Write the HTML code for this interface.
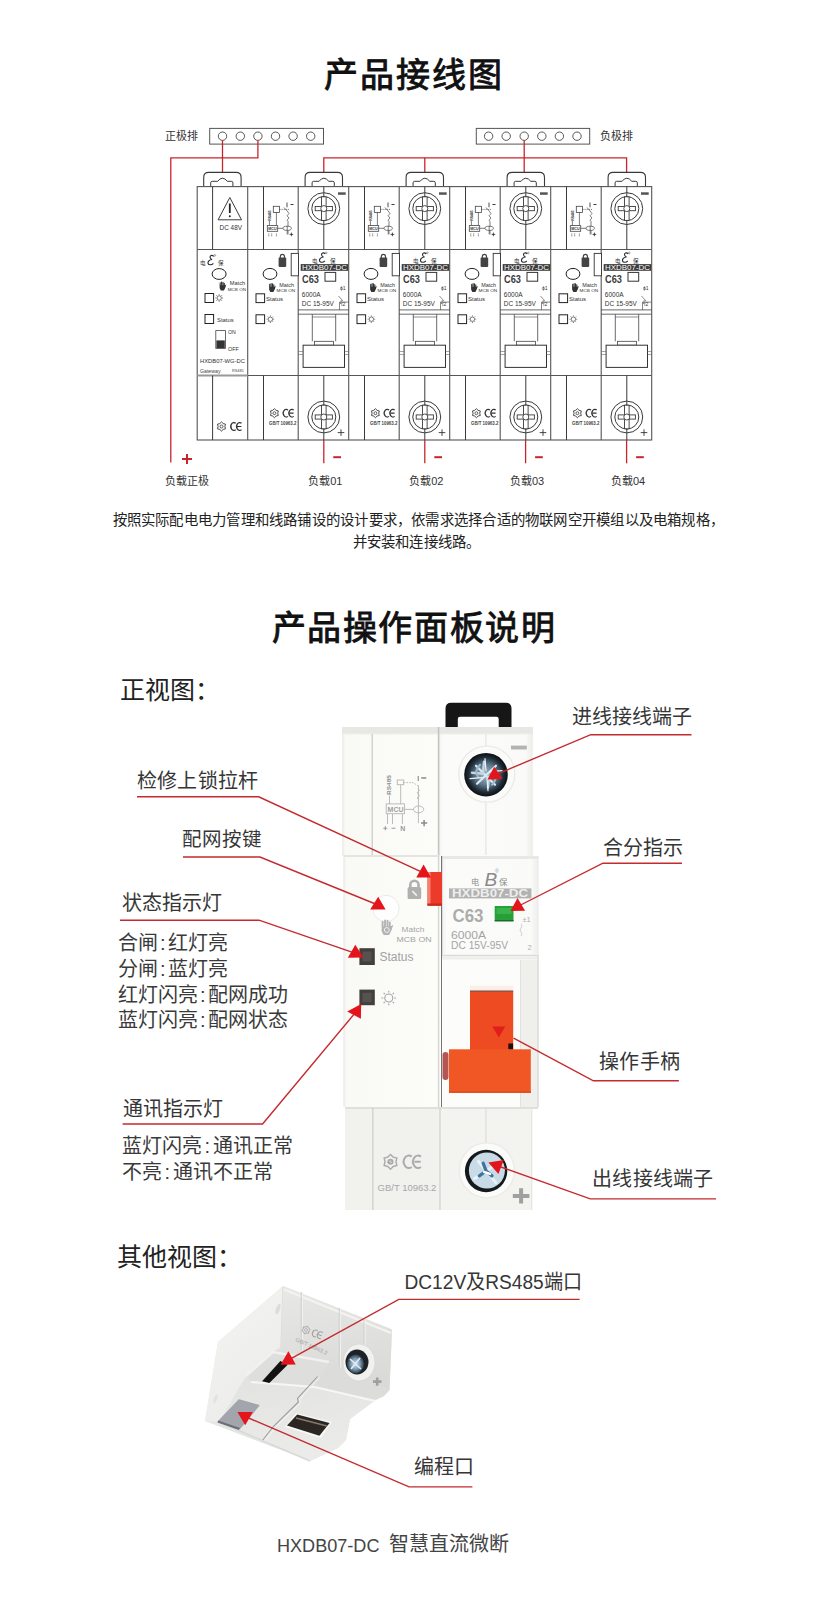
<!DOCTYPE html>
<html lang="zh-CN"><head><meta charset="utf-8"><title>HXDB07-DC</title>
<style>
html,body{margin:0;padding:0;background:#fff;}
body{width:821px;height:1600px;overflow:hidden;position:relative;font-family:"Liberation Sans", sans-serif;}
svg{position:absolute;left:0;top:0;display:block;}
svg text{font-family:"Liberation Sans", sans-serif;}
</style></head>
<body>
<svg width="821" height="1600" viewBox="0 0 821 1600">
<g id="diagram">
<rect x="209.7" y="128.4" width="113.8" height="15.7" fill="#fff" stroke="#555" stroke-width="1"/>
<rect x="476.3" y="128.4" width="113.4" height="15.7" fill="#fff" stroke="#555" stroke-width="1"/>
<circle cx="222.5" cy="136.2" r="4.2" fill="#fff" stroke="#444" stroke-width="0.9"/>
<circle cx="240.3" cy="136.2" r="4.2" fill="#fff" stroke="#444" stroke-width="0.9"/>
<circle cx="257.9" cy="136.2" r="4.2" fill="#fff" stroke="#444" stroke-width="0.9"/>
<circle cx="275.5" cy="136.2" r="4.2" fill="#fff" stroke="#444" stroke-width="0.9"/>
<circle cx="293.1" cy="136.2" r="4.2" fill="#fff" stroke="#444" stroke-width="0.9"/>
<circle cx="310.7" cy="136.2" r="4.2" fill="#fff" stroke="#444" stroke-width="0.9"/>
<circle cx="488.6" cy="136.2" r="4.2" fill="#fff" stroke="#444" stroke-width="0.9"/>
<circle cx="506.2" cy="136.2" r="4.2" fill="#fff" stroke="#444" stroke-width="0.9"/>
<circle cx="524.2" cy="136.2" r="4.2" fill="#fff" stroke="#444" stroke-width="0.9"/>
<circle cx="541.8" cy="136.2" r="4.2" fill="#fff" stroke="#444" stroke-width="0.9"/>
<circle cx="559.4" cy="136.2" r="4.2" fill="#fff" stroke="#444" stroke-width="0.9"/>
<circle cx="577.0" cy="136.2" r="4.2" fill="#fff" stroke="#444" stroke-width="0.9"/>
<text x="165" y="140.2" font-size="11" fill="#333" text-anchor="start" font-weight="normal" >正极排</text>
<text x="600" y="140.4" font-size="11" fill="#333" text-anchor="start" font-weight="normal" >负极排</text>
<g stroke="#c9242b" stroke-width="1.3" fill="none">
<path d="M222.5,140.4 V172.4"/>
<path d="M257.9,140.4 V157.8 H170.8 V462.6"/>
<path d="M323.8,172.4 V157.8 H626.6 V172.4"/>
<path d="M424.8,157.8 V172.4"/>
<path d="M524.2,140.4 V172.4"/>
<path d="M323.8,440 V463.3"/>
<path d="M424.8,440 V463.3"/>
<path d="M525.6,440 V463.3"/>
<path d="M626.6,440 V463.3"/>
</g>
<path d="M182,458.9 H192 M187,453.9 V463.9" stroke="#c9242b" stroke-width="2"/>
<path d="M333.3,457.2 H341.0" stroke="#c9242b" stroke-width="2"/>
<path d="M434.3,457.2 H442.0" stroke="#c9242b" stroke-width="2"/>
<path d="M535.1,457.2 H542.8000000000001" stroke="#c9242b" stroke-width="2"/>
<path d="M636.1,457.2 H643.8000000000001" stroke="#c9242b" stroke-width="2"/>
<text x="165" y="485.3" font-size="11" fill="#333" text-anchor="start" font-weight="normal" >负载正极</text>
<text x="308.2" y="485.3" font-size="11" fill="#333" text-anchor="start" font-weight="normal" >负载01</text>
<text x="409.2" y="485.3" font-size="11" fill="#333" text-anchor="start" font-weight="normal" >负载02</text>
<text x="510.0" y="485.3" font-size="11" fill="#333" text-anchor="start" font-weight="normal" >负载03</text>
<text x="611.0" y="485.3" font-size="11" fill="#333" text-anchor="start" font-weight="normal" >负载04</text>
<path d="M203.7,186.6 V177.4 Q203.7,172.4 208.7,172.4 H236.1 Q241.1,172.4 241.1,177.4 V186.6" fill="#fff" stroke="#3a3a3a" stroke-width="1.1"/>
<path d="M210.7,186.6 V182.8 Q210.7,181.3 212.2,181.3 H217.7 Q219.9,178.2 222.4,178.2 Q224.9,178.2 227.4,181.3 H231.4 Q232.9,181.3 232.9,182.8 V186.6" fill="none" stroke="#3a3a3a" stroke-width="1"/>
<path d="M305.1,186.6 V177.4 Q305.1,172.4 310.1,172.4 H337.5 Q342.5,172.4 342.5,177.4 V186.6" fill="#fff" stroke="#3a3a3a" stroke-width="1.1"/>
<path d="M312.1,186.6 V182.8 Q312.1,181.3 313.6,181.3 H319.1 Q321.3,178.2 323.8,178.2 Q326.3,178.2 328.8,181.3 H332.8 Q334.3,181.3 334.3,182.8 V186.6" fill="none" stroke="#3a3a3a" stroke-width="1"/>
<path d="M406.1,186.6 V177.4 Q406.1,172.4 411.1,172.4 H438.5 Q443.5,172.4 443.5,177.4 V186.6" fill="#fff" stroke="#3a3a3a" stroke-width="1.1"/>
<path d="M413.1,186.6 V182.8 Q413.1,181.3 414.6,181.3 H420.1 Q422.3,178.2 424.8,178.2 Q427.3,178.2 429.8,181.3 H433.8 Q435.3,181.3 435.3,182.8 V186.6" fill="none" stroke="#3a3a3a" stroke-width="1"/>
<path d="M507.1,186.6 V177.4 Q507.1,172.4 512.1,172.4 H539.5 Q544.5,172.4 544.5,177.4 V186.6" fill="#fff" stroke="#3a3a3a" stroke-width="1.1"/>
<path d="M514.1,186.6 V182.8 Q514.1,181.3 515.6,181.3 H521.1 Q523.3,178.2 525.8,178.2 Q528.3,178.2 530.8,181.3 H534.8 Q536.3,181.3 536.3,182.8 V186.6" fill="none" stroke="#3a3a3a" stroke-width="1"/>
<path d="M608.1,186.6 V177.4 Q608.1,172.4 613.1,172.4 H640.5 Q645.5,172.4 645.5,177.4 V186.6" fill="#fff" stroke="#3a3a3a" stroke-width="1.1"/>
<path d="M615.1,186.6 V182.8 Q615.1,181.3 616.6,181.3 H622.1 Q624.3,178.2 626.8,178.2 Q629.3,178.2 631.8,181.3 H635.8 Q637.3,181.3 637.3,182.8 V186.6" fill="none" stroke="#3a3a3a" stroke-width="1"/>
<rect x="197.2" y="186.6" width="454.5" height="253.4" fill="#fff" stroke="#555" stroke-width="1.1"/>
<g stroke="#555" stroke-width="1.1" fill="none">
<path d="M247.7,186.6 V440.0"/>
<path d="M298.2,186.6 V440.0"/>
<path d="M348.7,186.6 V440.0"/>
<path d="M399.2,186.6 V440.0"/>
<path d="M449.7,186.6 V440.0"/>
<path d="M500.2,186.6 V440.0"/>
<path d="M550.7,186.6 V440.0"/>
<path d="M601.2,186.6 V440.0"/>
<path d="M197.2,249.5 H651.7"/>
<path d="M197.2,375.5 H651.7"/>
</g>
<path d="M197.2,375.5 H247.7" stroke="#999" stroke-width="2.2"/>
<g stroke="#3a3a3a" stroke-width="1" fill="none">
<path d="M212.6,186.6 V249.5 M212.6,375.5 V440.0"/>
<path d="M263.5,186.6 V249.5 M263.5,375.5 V440.0"/>
<path d="M364.5,186.6 V249.5 M364.5,375.5 V440.0"/>
<path d="M465.5,186.6 V249.5 M465.5,375.5 V440.0"/>
<path d="M566.5,186.6 V249.5 M566.5,375.5 V440.0"/>
<path d="M323.8,186.6 V249.5 M323.8,375.5 V440.0"/>
<path d="M424.8,186.6 V249.5 M424.8,375.5 V440.0"/>
<path d="M525.8,186.6 V249.5 M525.8,375.5 V440.0"/>
<path d="M626.8,186.6 V249.5 M626.8,375.5 V440.0"/>
</g>
<path d="M229.8,197.5 L241.5,219.8 H218.1 Z" fill="none" stroke="#3a3a3a" stroke-width="1" stroke-linejoin="round"/>
<path d="M229.8,203.5 V213" stroke="#222" stroke-width="1.8"/>
<circle cx="229.8" cy="216.2" r="1" fill="#222"/>
<text x="219.6" y="230" font-size="7" fill="#333" textLength="22.4" lengthAdjust="spacingAndGlyphs">DC 48V</text>
<text x="200" y="265.0" font-size="5.5" fill="#333" text-anchor="start" font-weight="normal" >电</text>
<g transform="translate(207.5,254.5) scale(1.0)"><path d="M6.2,1.8 C4.6,0.2 2.2,0.8 2.6,3 C2.8,4.3 4.2,4.9 4.6,5 C1.8,5 0,7.2 0.6,9 C1.2,10.8 4.4,10.6 5.8,8.8" fill="none" stroke="#2a2a2a" stroke-width="1.15"/><circle cx="7.3" cy="0.9" r="0.9" fill="none" stroke="#444" stroke-width="0.45"/></g>
<text x="218.0" y="265.0" font-size="5.5" fill="#333" text-anchor="start" font-weight="normal" >保</text>
<ellipse cx="219.1" cy="274" rx="7" ry="5.4" fill="#fff" stroke="#222" stroke-width="1"/>
<g transform="translate(219,281.5)"><path d="M1.2,4 V1.3 M2.6,4 V0.5 M4,4 V0.7 M5.3,4.3 V1.7" stroke="#333" stroke-width="1.1" stroke-linecap="round"/><path d="M0.7,3.8 H5.9 L7.3,3 L6.3,6.2 L4.9,8.9 H1.8 L0.6,6.6 Z" fill="#333"/></g>
<text x="229.8" y="285.3" font-size="5.2" fill="#333" textLength="15.3" lengthAdjust="spacingAndGlyphs">Match</text>
<text x="227.8" y="290.9" font-size="4.3" fill="#333" textLength="18.2" lengthAdjust="spacingAndGlyphs">MCB ON</text>
<rect x="205" y="293.5" width="8.6" height="9" fill="#fff" stroke="#222" stroke-width="1"/>
<circle cx="219.2" cy="298" r="2.2" fill="none" stroke="#444" stroke-width="0.7"/>
<path d="M222.00,298.00 L223.00,298.00 M221.18,299.98 L221.89,300.69 M219.20,300.80 L219.20,301.80 M217.22,299.98 L216.51,300.69 M216.40,298.00 L215.40,298.00 M217.22,296.02 L216.51,295.31 M219.20,295.20 L219.20,294.20 M221.18,296.02 L221.89,295.31 " stroke="#444" stroke-width="0.7"/>
<rect x="205" y="314.5" width="8.6" height="9" fill="#fff" stroke="#222" stroke-width="1"/>
<text x="217" y="321.9" font-size="6" fill="#333" textLength="16.7" lengthAdjust="spacingAndGlyphs">Status</text>
<rect x="215.8" y="330.6" width="9.6" height="17.9" fill="#fff" stroke="#444" stroke-width="0.8"/>
<rect x="216.4" y="340.4" width="8.4" height="7.6" fill="#333"/>
<text x="228" y="333.6" font-size="5.2" fill="#333" text-anchor="start" font-weight="normal" >ON</text>
<text x="228" y="350.5" font-size="5.4" fill="#333" text-anchor="start" font-weight="normal" >OFF</text>
<text x="200" y="363.3" font-size="5.6" fill="#333" text-anchor="start" font-weight="normal" textLength="45" lengthAdjust="spacingAndGlyphs">HXDB07-WG-DC</text>
<text x="200" y="372.6" font-size="5.2" fill="#444" text-anchor="start" font-weight="normal" >Gateway</text>
<text x="232" y="372.4" font-size="3.8" fill="#444" text-anchor="start" font-weight="normal" >RS485</text>
<path d="M221.50,421.90 L219.80,423.56 L217.52,424.20 L218.10,426.50 L217.52,428.80 L219.80,429.44 L221.50,431.10 L223.20,429.44 L225.48,428.80 L224.90,426.50 L225.48,424.20 L223.20,423.56 Z" fill="none" stroke="#333" stroke-width="0.90"/>
<circle cx="221.5" cy="426.5" r="1.50" fill="none" stroke="#333" stroke-width="0.80"/>
<path d="M235.73,423.26 A3.17,3.90 0 1 0 235.73,429.74 M241.54,423.26 A3.17,3.90 0 1 0 241.54,429.74 M237.42,426.50 H241.38" fill="none" stroke="#333" stroke-width="1.23"/>
<g transform="translate(0.0,0)">
<rect x="273.3" y="206.3" width="6.1" height="6.1" fill="#fff" stroke="#444" stroke-width="0.8"/>
<path d="M276.4,212.4 V225.6 M269.4,221 V225.6" stroke="#444" stroke-width="0.7"/>
<path d="M279.4,209.4 H289.8" stroke="#444" stroke-width="0.7" stroke-dasharray="1.2 0.9"/>
<rect x="267.3" y="225.6" width="10.4" height="5.7" fill="#fff" stroke="#444" stroke-width="0.8"/>
<text x="268.3" y="230.3" font-size="4.4" font-weight="bold" fill="#333" textLength="8.4" lengthAdjust="spacingAndGlyphs">MCU</text>
<text x="270.8" y="220.7" font-size="3.4" font-weight="bold" fill="#333" transform="rotate(-90 270.8 220.7)" textLength="10.4" lengthAdjust="spacingAndGlyphs">RS485</text>
<path d="M287,202.4 V207.3" stroke="#777" stroke-width="1.3"/>
<path d="M284,207.5 L288.5,212.5 M288,212.5 q2,1 0,2.2 q-2,1.1 0,2.2 q2,1.1 0,2.2 q-2,1 0,2.2 V234.4" stroke="#444" stroke-width="0.7" fill="none"/>
<ellipse cx="287.2" cy="228.3" rx="4.2" ry="2.1" fill="#fff" stroke="#444" stroke-width="0.7"/>
<path d="M287.2,226 V234.4 M277.7,228.3 H283" stroke="#444" stroke-width="0.7"/>
<path d="M290.5,204.5 H293.5" stroke="#222" stroke-width="0.9"/>
<path d="M289.6,234.4 H293.2 M291.4,232.6 V236.2" stroke="#222" stroke-width="0.8"/>
<path d="M268.8,233.5 V236.5 M271.7,233.5 V236.5 M276.4,233.5 V236.5" stroke="#444" stroke-width="0.8" stroke-dasharray="1 0.8"/>
<rect x="278.6" y="257.5" width="7.6" height="9.5" rx="1" fill="#444"/>
<path d="M280.3,258 v-1.5 a2.1,2.1 0 0 1 4.2,0 v1.5" fill="none" stroke="#444" stroke-width="1.2"/>
<rect x="291.2" y="253.4" width="7.3" height="22.4" fill="#fff" stroke="#333" stroke-width="0.9"/>
<ellipse cx="270" cy="273.9" rx="6.9" ry="5.5" fill="#fff" stroke="#222" stroke-width="1"/>
<g transform="translate(268.5,283)"><path d="M1.2,4 V1.3 M2.6,4 V0.5 M4,4 V0.7 M5.3,4.3 V1.7" stroke="#333" stroke-width="1.1" stroke-linecap="round"/><path d="M0.7,3.8 H5.9 L7.3,3 L6.3,6.2 L4.9,8.9 H1.8 L0.6,6.6 Z" fill="#333"/></g>
<text x="279.2" y="287.2" font-size="5.2" fill="#333" textLength="14.9" lengthAdjust="spacingAndGlyphs">Match</text>
<text x="276.5" y="292.4" font-size="4.3" fill="#333" textLength="18.7" lengthAdjust="spacingAndGlyphs">MCB ON</text>
<rect x="256" y="293.8" width="8.6" height="8.8" fill="#fff" stroke="#222" stroke-width="1"/>
<text x="266" y="301.2" font-size="6" fill="#333" textLength="17.1" lengthAdjust="spacingAndGlyphs">Status</text>
<rect x="256" y="314.8" width="8.6" height="8.8" fill="#fff" stroke="#222" stroke-width="1"/>
<circle cx="270.4" cy="319.2" r="2.2" fill="none" stroke="#444" stroke-width="0.7"/>
<path d="M273.20,319.20 L274.20,319.20 M272.38,321.18 L273.09,321.89 M270.40,322.00 L270.40,323.00 M268.42,321.18 L267.71,321.89 M267.60,319.20 L266.60,319.20 M268.42,317.22 L267.71,316.51 M270.40,316.40 L270.40,315.40 M272.38,317.22 L273.09,316.51 " stroke="#444" stroke-width="0.7"/>
<path d="M274.40,408.69 L272.73,410.31 L270.50,410.95 L271.07,413.20 L270.50,415.45 L272.73,416.09 L274.40,417.71 L276.07,416.09 L278.30,415.45 L277.73,413.20 L278.30,410.95 L276.07,410.31 Z" fill="none" stroke="#333" stroke-width="0.88"/>
<circle cx="274.4" cy="413.2" r="1.47" fill="none" stroke="#333" stroke-width="0.78"/>
<path d="M288.02,410.03 A3.10,3.82 0 1 0 288.02,416.37 M293.71,410.03 A3.10,3.82 0 1 0 293.71,416.37 M289.67,413.20 H293.55" fill="none" stroke="#333" stroke-width="1.21"/>
<text x="269" y="424.8" font-size="4.6" font-weight="bold" fill="#444" textLength="27.3" lengthAdjust="spacingAndGlyphs">GB/T 10963.2</text>
</g>
<g transform="translate(101.0,0)">
<rect x="273.3" y="206.3" width="6.1" height="6.1" fill="#fff" stroke="#444" stroke-width="0.8"/>
<path d="M276.4,212.4 V225.6 M269.4,221 V225.6" stroke="#444" stroke-width="0.7"/>
<path d="M279.4,209.4 H289.8" stroke="#444" stroke-width="0.7" stroke-dasharray="1.2 0.9"/>
<rect x="267.3" y="225.6" width="10.4" height="5.7" fill="#fff" stroke="#444" stroke-width="0.8"/>
<text x="268.3" y="230.3" font-size="4.4" font-weight="bold" fill="#333" textLength="8.4" lengthAdjust="spacingAndGlyphs">MCU</text>
<text x="270.8" y="220.7" font-size="3.4" font-weight="bold" fill="#333" transform="rotate(-90 270.8 220.7)" textLength="10.4" lengthAdjust="spacingAndGlyphs">RS485</text>
<path d="M287,202.4 V207.3" stroke="#777" stroke-width="1.3"/>
<path d="M284,207.5 L288.5,212.5 M288,212.5 q2,1 0,2.2 q-2,1.1 0,2.2 q2,1.1 0,2.2 q-2,1 0,2.2 V234.4" stroke="#444" stroke-width="0.7" fill="none"/>
<ellipse cx="287.2" cy="228.3" rx="4.2" ry="2.1" fill="#fff" stroke="#444" stroke-width="0.7"/>
<path d="M287.2,226 V234.4 M277.7,228.3 H283" stroke="#444" stroke-width="0.7"/>
<path d="M290.5,204.5 H293.5" stroke="#222" stroke-width="0.9"/>
<path d="M289.6,234.4 H293.2 M291.4,232.6 V236.2" stroke="#222" stroke-width="0.8"/>
<path d="M268.8,233.5 V236.5 M271.7,233.5 V236.5 M276.4,233.5 V236.5" stroke="#444" stroke-width="0.8" stroke-dasharray="1 0.8"/>
<rect x="278.6" y="257.5" width="7.6" height="9.5" rx="1" fill="#444"/>
<path d="M280.3,258 v-1.5 a2.1,2.1 0 0 1 4.2,0 v1.5" fill="none" stroke="#444" stroke-width="1.2"/>
<rect x="291.2" y="253.4" width="7.3" height="22.4" fill="#fff" stroke="#333" stroke-width="0.9"/>
<ellipse cx="270" cy="273.9" rx="6.9" ry="5.5" fill="#fff" stroke="#222" stroke-width="1"/>
<g transform="translate(268.5,283)"><path d="M1.2,4 V1.3 M2.6,4 V0.5 M4,4 V0.7 M5.3,4.3 V1.7" stroke="#333" stroke-width="1.1" stroke-linecap="round"/><path d="M0.7,3.8 H5.9 L7.3,3 L6.3,6.2 L4.9,8.9 H1.8 L0.6,6.6 Z" fill="#333"/></g>
<text x="279.2" y="287.2" font-size="5.2" fill="#333" textLength="14.9" lengthAdjust="spacingAndGlyphs">Match</text>
<text x="276.5" y="292.4" font-size="4.3" fill="#333" textLength="18.7" lengthAdjust="spacingAndGlyphs">MCB ON</text>
<rect x="256" y="293.8" width="8.6" height="8.8" fill="#fff" stroke="#222" stroke-width="1"/>
<text x="266" y="301.2" font-size="6" fill="#333" textLength="17.1" lengthAdjust="spacingAndGlyphs">Status</text>
<rect x="256" y="314.8" width="8.6" height="8.8" fill="#fff" stroke="#222" stroke-width="1"/>
<circle cx="270.4" cy="319.2" r="2.2" fill="none" stroke="#444" stroke-width="0.7"/>
<path d="M273.20,319.20 L274.20,319.20 M272.38,321.18 L273.09,321.89 M270.40,322.00 L270.40,323.00 M268.42,321.18 L267.71,321.89 M267.60,319.20 L266.60,319.20 M268.42,317.22 L267.71,316.51 M270.40,316.40 L270.40,315.40 M272.38,317.22 L273.09,316.51 " stroke="#444" stroke-width="0.7"/>
<path d="M274.40,408.69 L272.73,410.31 L270.50,410.95 L271.07,413.20 L270.50,415.45 L272.73,416.09 L274.40,417.71 L276.07,416.09 L278.30,415.45 L277.73,413.20 L278.30,410.95 L276.07,410.31 Z" fill="none" stroke="#333" stroke-width="0.88"/>
<circle cx="274.4" cy="413.2" r="1.47" fill="none" stroke="#333" stroke-width="0.78"/>
<path d="M288.02,410.03 A3.10,3.82 0 1 0 288.02,416.37 M293.71,410.03 A3.10,3.82 0 1 0 293.71,416.37 M289.67,413.20 H293.55" fill="none" stroke="#333" stroke-width="1.21"/>
<text x="269" y="424.8" font-size="4.6" font-weight="bold" fill="#444" textLength="27.3" lengthAdjust="spacingAndGlyphs">GB/T 10963.2</text>
</g>
<g transform="translate(202.0,0)">
<rect x="273.3" y="206.3" width="6.1" height="6.1" fill="#fff" stroke="#444" stroke-width="0.8"/>
<path d="M276.4,212.4 V225.6 M269.4,221 V225.6" stroke="#444" stroke-width="0.7"/>
<path d="M279.4,209.4 H289.8" stroke="#444" stroke-width="0.7" stroke-dasharray="1.2 0.9"/>
<rect x="267.3" y="225.6" width="10.4" height="5.7" fill="#fff" stroke="#444" stroke-width="0.8"/>
<text x="268.3" y="230.3" font-size="4.4" font-weight="bold" fill="#333" textLength="8.4" lengthAdjust="spacingAndGlyphs">MCU</text>
<text x="270.8" y="220.7" font-size="3.4" font-weight="bold" fill="#333" transform="rotate(-90 270.8 220.7)" textLength="10.4" lengthAdjust="spacingAndGlyphs">RS485</text>
<path d="M287,202.4 V207.3" stroke="#777" stroke-width="1.3"/>
<path d="M284,207.5 L288.5,212.5 M288,212.5 q2,1 0,2.2 q-2,1.1 0,2.2 q2,1.1 0,2.2 q-2,1 0,2.2 V234.4" stroke="#444" stroke-width="0.7" fill="none"/>
<ellipse cx="287.2" cy="228.3" rx="4.2" ry="2.1" fill="#fff" stroke="#444" stroke-width="0.7"/>
<path d="M287.2,226 V234.4 M277.7,228.3 H283" stroke="#444" stroke-width="0.7"/>
<path d="M290.5,204.5 H293.5" stroke="#222" stroke-width="0.9"/>
<path d="M289.6,234.4 H293.2 M291.4,232.6 V236.2" stroke="#222" stroke-width="0.8"/>
<path d="M268.8,233.5 V236.5 M271.7,233.5 V236.5 M276.4,233.5 V236.5" stroke="#444" stroke-width="0.8" stroke-dasharray="1 0.8"/>
<rect x="278.6" y="257.5" width="7.6" height="9.5" rx="1" fill="#444"/>
<path d="M280.3,258 v-1.5 a2.1,2.1 0 0 1 4.2,0 v1.5" fill="none" stroke="#444" stroke-width="1.2"/>
<rect x="291.2" y="253.4" width="7.3" height="22.4" fill="#fff" stroke="#333" stroke-width="0.9"/>
<ellipse cx="270" cy="273.9" rx="6.9" ry="5.5" fill="#fff" stroke="#222" stroke-width="1"/>
<g transform="translate(268.5,283)"><path d="M1.2,4 V1.3 M2.6,4 V0.5 M4,4 V0.7 M5.3,4.3 V1.7" stroke="#333" stroke-width="1.1" stroke-linecap="round"/><path d="M0.7,3.8 H5.9 L7.3,3 L6.3,6.2 L4.9,8.9 H1.8 L0.6,6.6 Z" fill="#333"/></g>
<text x="279.2" y="287.2" font-size="5.2" fill="#333" textLength="14.9" lengthAdjust="spacingAndGlyphs">Match</text>
<text x="276.5" y="292.4" font-size="4.3" fill="#333" textLength="18.7" lengthAdjust="spacingAndGlyphs">MCB ON</text>
<rect x="256" y="293.8" width="8.6" height="8.8" fill="#fff" stroke="#222" stroke-width="1"/>
<text x="266" y="301.2" font-size="6" fill="#333" textLength="17.1" lengthAdjust="spacingAndGlyphs">Status</text>
<rect x="256" y="314.8" width="8.6" height="8.8" fill="#fff" stroke="#222" stroke-width="1"/>
<circle cx="270.4" cy="319.2" r="2.2" fill="none" stroke="#444" stroke-width="0.7"/>
<path d="M273.20,319.20 L274.20,319.20 M272.38,321.18 L273.09,321.89 M270.40,322.00 L270.40,323.00 M268.42,321.18 L267.71,321.89 M267.60,319.20 L266.60,319.20 M268.42,317.22 L267.71,316.51 M270.40,316.40 L270.40,315.40 M272.38,317.22 L273.09,316.51 " stroke="#444" stroke-width="0.7"/>
<path d="M274.40,408.69 L272.73,410.31 L270.50,410.95 L271.07,413.20 L270.50,415.45 L272.73,416.09 L274.40,417.71 L276.07,416.09 L278.30,415.45 L277.73,413.20 L278.30,410.95 L276.07,410.31 Z" fill="none" stroke="#333" stroke-width="0.88"/>
<circle cx="274.4" cy="413.2" r="1.47" fill="none" stroke="#333" stroke-width="0.78"/>
<path d="M288.02,410.03 A3.10,3.82 0 1 0 288.02,416.37 M293.71,410.03 A3.10,3.82 0 1 0 293.71,416.37 M289.67,413.20 H293.55" fill="none" stroke="#333" stroke-width="1.21"/>
<text x="269" y="424.8" font-size="4.6" font-weight="bold" fill="#444" textLength="27.3" lengthAdjust="spacingAndGlyphs">GB/T 10963.2</text>
</g>
<g transform="translate(303.0,0)">
<rect x="273.3" y="206.3" width="6.1" height="6.1" fill="#fff" stroke="#444" stroke-width="0.8"/>
<path d="M276.4,212.4 V225.6 M269.4,221 V225.6" stroke="#444" stroke-width="0.7"/>
<path d="M279.4,209.4 H289.8" stroke="#444" stroke-width="0.7" stroke-dasharray="1.2 0.9"/>
<rect x="267.3" y="225.6" width="10.4" height="5.7" fill="#fff" stroke="#444" stroke-width="0.8"/>
<text x="268.3" y="230.3" font-size="4.4" font-weight="bold" fill="#333" textLength="8.4" lengthAdjust="spacingAndGlyphs">MCU</text>
<text x="270.8" y="220.7" font-size="3.4" font-weight="bold" fill="#333" transform="rotate(-90 270.8 220.7)" textLength="10.4" lengthAdjust="spacingAndGlyphs">RS485</text>
<path d="M287,202.4 V207.3" stroke="#777" stroke-width="1.3"/>
<path d="M284,207.5 L288.5,212.5 M288,212.5 q2,1 0,2.2 q-2,1.1 0,2.2 q2,1.1 0,2.2 q-2,1 0,2.2 V234.4" stroke="#444" stroke-width="0.7" fill="none"/>
<ellipse cx="287.2" cy="228.3" rx="4.2" ry="2.1" fill="#fff" stroke="#444" stroke-width="0.7"/>
<path d="M287.2,226 V234.4 M277.7,228.3 H283" stroke="#444" stroke-width="0.7"/>
<path d="M290.5,204.5 H293.5" stroke="#222" stroke-width="0.9"/>
<path d="M289.6,234.4 H293.2 M291.4,232.6 V236.2" stroke="#222" stroke-width="0.8"/>
<path d="M268.8,233.5 V236.5 M271.7,233.5 V236.5 M276.4,233.5 V236.5" stroke="#444" stroke-width="0.8" stroke-dasharray="1 0.8"/>
<rect x="278.6" y="257.5" width="7.6" height="9.5" rx="1" fill="#444"/>
<path d="M280.3,258 v-1.5 a2.1,2.1 0 0 1 4.2,0 v1.5" fill="none" stroke="#444" stroke-width="1.2"/>
<rect x="291.2" y="253.4" width="7.3" height="22.4" fill="#fff" stroke="#333" stroke-width="0.9"/>
<ellipse cx="270" cy="273.9" rx="6.9" ry="5.5" fill="#fff" stroke="#222" stroke-width="1"/>
<g transform="translate(268.5,283)"><path d="M1.2,4 V1.3 M2.6,4 V0.5 M4,4 V0.7 M5.3,4.3 V1.7" stroke="#333" stroke-width="1.1" stroke-linecap="round"/><path d="M0.7,3.8 H5.9 L7.3,3 L6.3,6.2 L4.9,8.9 H1.8 L0.6,6.6 Z" fill="#333"/></g>
<text x="279.2" y="287.2" font-size="5.2" fill="#333" textLength="14.9" lengthAdjust="spacingAndGlyphs">Match</text>
<text x="276.5" y="292.4" font-size="4.3" fill="#333" textLength="18.7" lengthAdjust="spacingAndGlyphs">MCB ON</text>
<rect x="256" y="293.8" width="8.6" height="8.8" fill="#fff" stroke="#222" stroke-width="1"/>
<text x="266" y="301.2" font-size="6" fill="#333" textLength="17.1" lengthAdjust="spacingAndGlyphs">Status</text>
<rect x="256" y="314.8" width="8.6" height="8.8" fill="#fff" stroke="#222" stroke-width="1"/>
<circle cx="270.4" cy="319.2" r="2.2" fill="none" stroke="#444" stroke-width="0.7"/>
<path d="M273.20,319.20 L274.20,319.20 M272.38,321.18 L273.09,321.89 M270.40,322.00 L270.40,323.00 M268.42,321.18 L267.71,321.89 M267.60,319.20 L266.60,319.20 M268.42,317.22 L267.71,316.51 M270.40,316.40 L270.40,315.40 M272.38,317.22 L273.09,316.51 " stroke="#444" stroke-width="0.7"/>
<path d="M274.40,408.69 L272.73,410.31 L270.50,410.95 L271.07,413.20 L270.50,415.45 L272.73,416.09 L274.40,417.71 L276.07,416.09 L278.30,415.45 L277.73,413.20 L278.30,410.95 L276.07,410.31 Z" fill="none" stroke="#333" stroke-width="0.88"/>
<circle cx="274.4" cy="413.2" r="1.47" fill="none" stroke="#333" stroke-width="0.78"/>
<path d="M288.02,410.03 A3.10,3.82 0 1 0 288.02,416.37 M293.71,410.03 A3.10,3.82 0 1 0 293.71,416.37 M289.67,413.20 H293.55" fill="none" stroke="#333" stroke-width="1.21"/>
<text x="269" y="424.8" font-size="4.6" font-weight="bold" fill="#444" textLength="27.3" lengthAdjust="spacingAndGlyphs">GB/T 10963.2</text>
</g>
<circle cx="323.8" cy="208.6" r="15.9" fill="#fff" stroke="#3a3a3a" stroke-width="1"/>
<circle cx="323.8" cy="208.6" r="12" fill="none" stroke="#3a3a3a" stroke-width="1"/>
<rect x="315.2" y="206.5" width="17.2" height="4.2" fill="#fff" stroke="#3a3a3a" stroke-width="0.9"/>
<rect x="321.5" y="196.79999999999998" width="4.6" height="23.6" fill="#fff" stroke="#3a3a3a" stroke-width="0.9"/>
<rect x="321.8" y="206.79999999999998" width="4" height="3.6" fill="#fff"/>
<circle cx="323.8" cy="208.6" r="3" fill="#fff" stroke="#3a3a3a" stroke-width="0.9"/>
<path d="M323.8,192.7 V196.79999999999998 M323.8,220.4 V224.5" stroke="#3a3a3a" stroke-width="1"/>
<circle cx="323.8" cy="417.0" r="15.9" fill="#fff" stroke="#3a3a3a" stroke-width="1"/>
<circle cx="323.8" cy="417.0" r="12" fill="none" stroke="#3a3a3a" stroke-width="1"/>
<rect x="315.2" y="414.9" width="17.2" height="4.2" fill="#fff" stroke="#3a3a3a" stroke-width="0.9"/>
<rect x="321.5" y="405.2" width="4.6" height="23.6" fill="#fff" stroke="#3a3a3a" stroke-width="0.9"/>
<rect x="321.8" y="415.2" width="4" height="3.6" fill="#fff"/>
<circle cx="323.8" cy="417.0" r="3" fill="#fff" stroke="#3a3a3a" stroke-width="0.9"/>
<path d="M323.8,401.1 V405.2 M323.8,428.8 V432.9" stroke="#3a3a3a" stroke-width="1"/>
<rect x="338.0" y="192.3" width="7.7" height="2.5" fill="#555"/>
<path d="M337.7,432.6 h6.6 M341.0,429.3 v6.6" stroke="#333" stroke-width="0.9"/>
<g transform="translate(0.0,0)">
<text x="311.5" y="262.5" font-size="5.5" fill="#333" text-anchor="start" font-weight="normal" >电</text>
<g transform="translate(319.0,252.0) scale(1.0)"><path d="M6.2,1.8 C4.6,0.2 2.2,0.8 2.6,3 C2.8,4.3 4.2,4.9 4.6,5 C1.8,5 0,7.2 0.6,9 C1.2,10.8 4.4,10.6 5.8,8.8" fill="none" stroke="#2a2a2a" stroke-width="1.15"/><circle cx="7.3" cy="0.9" r="0.9" fill="none" stroke="#444" stroke-width="0.45"/></g>
<text x="329.5" y="262.5" font-size="5.5" fill="#333" text-anchor="start" font-weight="normal" >保</text>
<rect x="300.7" y="264.1" width="47.5" height="6.7" fill="#3c3c3c"/>
<text x="302" y="269.8" font-size="6.6" fill="#fff" textLength="45" lengthAdjust="spacingAndGlyphs">HXDB07-DC</text>
<text x="302" y="283" font-size="10.6" font-weight="bold" fill="#3a3a3a" textLength="16.9" lengthAdjust="spacingAndGlyphs">C63</text>
<rect x="325" y="272.4" width="10.7" height="8.8" fill="#fff" stroke="#333" stroke-width="1"/>
<text x="301.8" y="297.2" font-size="7" fill="#333" textLength="18.8" lengthAdjust="spacingAndGlyphs">6000A</text>
<text x="301.8" y="305.7" font-size="7" fill="#333" textLength="32.1" lengthAdjust="spacingAndGlyphs">DC 15-95V</text>
<path d="M338.5,296 L343,301 M340.8,300 q1.5,1 0,2 q-1.5,1 0,2" stroke="#444" stroke-width="0.6" fill="none"/>
<text x="340" y="290" font-size="5" fill="#333">ϕ1</text>
<path d="M339.5,309.9 V302.1 H348.2" stroke="#555" stroke-width="0.7" fill="none"/>
<text x="341" y="305.5" font-size="5" fill="#333">f2</text>
<path d="M298.2,309.9 H348.7 M298.2,314.2 H348.7" stroke="#444" stroke-width="0.8"/>
<path d="M312.3,314.2 V341.3 M335.7,314.2 V341.3" stroke="#444" stroke-width="0.8"/>
<path d="M312.3,317 H335.7" stroke="#444" stroke-width="0.6"/>
<rect x="314.5" y="341.3" width="19" height="3.9" fill="#fff" stroke="#444" stroke-width="0.8"/>
<rect x="303.1" y="345.2" width="41.4" height="22.2" fill="#fff" stroke="#333" stroke-width="1"/>
<path d="M298.2,351.5 H303.1 M298.2,354.5 H303.1 M344.5,351.5 H348.7 M344.5,354.5 H348.7" stroke="#666" stroke-width="0.6"/>
</g>
<circle cx="424.8" cy="208.6" r="15.9" fill="#fff" stroke="#3a3a3a" stroke-width="1"/>
<circle cx="424.8" cy="208.6" r="12" fill="none" stroke="#3a3a3a" stroke-width="1"/>
<rect x="416.2" y="206.5" width="17.2" height="4.2" fill="#fff" stroke="#3a3a3a" stroke-width="0.9"/>
<rect x="422.5" y="196.79999999999998" width="4.6" height="23.6" fill="#fff" stroke="#3a3a3a" stroke-width="0.9"/>
<rect x="422.8" y="206.79999999999998" width="4" height="3.6" fill="#fff"/>
<circle cx="424.8" cy="208.6" r="3" fill="#fff" stroke="#3a3a3a" stroke-width="0.9"/>
<path d="M424.8,192.7 V196.79999999999998 M424.8,220.4 V224.5" stroke="#3a3a3a" stroke-width="1"/>
<circle cx="424.8" cy="417.0" r="15.9" fill="#fff" stroke="#3a3a3a" stroke-width="1"/>
<circle cx="424.8" cy="417.0" r="12" fill="none" stroke="#3a3a3a" stroke-width="1"/>
<rect x="416.2" y="414.9" width="17.2" height="4.2" fill="#fff" stroke="#3a3a3a" stroke-width="0.9"/>
<rect x="422.5" y="405.2" width="4.6" height="23.6" fill="#fff" stroke="#3a3a3a" stroke-width="0.9"/>
<rect x="422.8" y="415.2" width="4" height="3.6" fill="#fff"/>
<circle cx="424.8" cy="417.0" r="3" fill="#fff" stroke="#3a3a3a" stroke-width="0.9"/>
<path d="M424.8,401.1 V405.2 M424.8,428.8 V432.9" stroke="#3a3a3a" stroke-width="1"/>
<rect x="439.0" y="192.3" width="7.7" height="2.5" fill="#555"/>
<path d="M438.7,432.6 h6.6 M442.0,429.3 v6.6" stroke="#333" stroke-width="0.9"/>
<g transform="translate(101.0,0)">
<text x="311.5" y="262.5" font-size="5.5" fill="#333" text-anchor="start" font-weight="normal" >电</text>
<g transform="translate(319.0,252.0) scale(1.0)"><path d="M6.2,1.8 C4.6,0.2 2.2,0.8 2.6,3 C2.8,4.3 4.2,4.9 4.6,5 C1.8,5 0,7.2 0.6,9 C1.2,10.8 4.4,10.6 5.8,8.8" fill="none" stroke="#2a2a2a" stroke-width="1.15"/><circle cx="7.3" cy="0.9" r="0.9" fill="none" stroke="#444" stroke-width="0.45"/></g>
<text x="329.5" y="262.5" font-size="5.5" fill="#333" text-anchor="start" font-weight="normal" >保</text>
<rect x="300.7" y="264.1" width="47.5" height="6.7" fill="#3c3c3c"/>
<text x="302" y="269.8" font-size="6.6" fill="#fff" textLength="45" lengthAdjust="spacingAndGlyphs">HXDB07-DC</text>
<text x="302" y="283" font-size="10.6" font-weight="bold" fill="#3a3a3a" textLength="16.9" lengthAdjust="spacingAndGlyphs">C63</text>
<rect x="325" y="272.4" width="10.7" height="8.8" fill="#fff" stroke="#333" stroke-width="1"/>
<text x="301.8" y="297.2" font-size="7" fill="#333" textLength="18.8" lengthAdjust="spacingAndGlyphs">6000A</text>
<text x="301.8" y="305.7" font-size="7" fill="#333" textLength="32.1" lengthAdjust="spacingAndGlyphs">DC 15-95V</text>
<path d="M338.5,296 L343,301 M340.8,300 q1.5,1 0,2 q-1.5,1 0,2" stroke="#444" stroke-width="0.6" fill="none"/>
<text x="340" y="290" font-size="5" fill="#333">ϕ1</text>
<path d="M339.5,309.9 V302.1 H348.2" stroke="#555" stroke-width="0.7" fill="none"/>
<text x="341" y="305.5" font-size="5" fill="#333">f2</text>
<path d="M298.2,309.9 H348.7 M298.2,314.2 H348.7" stroke="#444" stroke-width="0.8"/>
<path d="M312.3,314.2 V341.3 M335.7,314.2 V341.3" stroke="#444" stroke-width="0.8"/>
<path d="M312.3,317 H335.7" stroke="#444" stroke-width="0.6"/>
<rect x="314.5" y="341.3" width="19" height="3.9" fill="#fff" stroke="#444" stroke-width="0.8"/>
<rect x="303.1" y="345.2" width="41.4" height="22.2" fill="#fff" stroke="#333" stroke-width="1"/>
<path d="M298.2,351.5 H303.1 M298.2,354.5 H303.1 M344.5,351.5 H348.7 M344.5,354.5 H348.7" stroke="#666" stroke-width="0.6"/>
</g>
<circle cx="525.8" cy="208.6" r="15.9" fill="#fff" stroke="#3a3a3a" stroke-width="1"/>
<circle cx="525.8" cy="208.6" r="12" fill="none" stroke="#3a3a3a" stroke-width="1"/>
<rect x="517.1999999999999" y="206.5" width="17.2" height="4.2" fill="#fff" stroke="#3a3a3a" stroke-width="0.9"/>
<rect x="523.5" y="196.79999999999998" width="4.6" height="23.6" fill="#fff" stroke="#3a3a3a" stroke-width="0.9"/>
<rect x="523.8" y="206.79999999999998" width="4" height="3.6" fill="#fff"/>
<circle cx="525.8" cy="208.6" r="3" fill="#fff" stroke="#3a3a3a" stroke-width="0.9"/>
<path d="M525.8,192.7 V196.79999999999998 M525.8,220.4 V224.5" stroke="#3a3a3a" stroke-width="1"/>
<circle cx="525.8" cy="417.0" r="15.9" fill="#fff" stroke="#3a3a3a" stroke-width="1"/>
<circle cx="525.8" cy="417.0" r="12" fill="none" stroke="#3a3a3a" stroke-width="1"/>
<rect x="517.1999999999999" y="414.9" width="17.2" height="4.2" fill="#fff" stroke="#3a3a3a" stroke-width="0.9"/>
<rect x="523.5" y="405.2" width="4.6" height="23.6" fill="#fff" stroke="#3a3a3a" stroke-width="0.9"/>
<rect x="523.8" y="415.2" width="4" height="3.6" fill="#fff"/>
<circle cx="525.8" cy="417.0" r="3" fill="#fff" stroke="#3a3a3a" stroke-width="0.9"/>
<path d="M525.8,401.1 V405.2 M525.8,428.8 V432.9" stroke="#3a3a3a" stroke-width="1"/>
<rect x="540.0" y="192.3" width="7.7" height="2.5" fill="#555"/>
<path d="M539.7,432.6 h6.6 M543.0,429.3 v6.6" stroke="#333" stroke-width="0.9"/>
<g transform="translate(202.0,0)">
<text x="311.5" y="262.5" font-size="5.5" fill="#333" text-anchor="start" font-weight="normal" >电</text>
<g transform="translate(319.0,252.0) scale(1.0)"><path d="M6.2,1.8 C4.6,0.2 2.2,0.8 2.6,3 C2.8,4.3 4.2,4.9 4.6,5 C1.8,5 0,7.2 0.6,9 C1.2,10.8 4.4,10.6 5.8,8.8" fill="none" stroke="#2a2a2a" stroke-width="1.15"/><circle cx="7.3" cy="0.9" r="0.9" fill="none" stroke="#444" stroke-width="0.45"/></g>
<text x="329.5" y="262.5" font-size="5.5" fill="#333" text-anchor="start" font-weight="normal" >保</text>
<rect x="300.7" y="264.1" width="47.5" height="6.7" fill="#3c3c3c"/>
<text x="302" y="269.8" font-size="6.6" fill="#fff" textLength="45" lengthAdjust="spacingAndGlyphs">HXDB07-DC</text>
<text x="302" y="283" font-size="10.6" font-weight="bold" fill="#3a3a3a" textLength="16.9" lengthAdjust="spacingAndGlyphs">C63</text>
<rect x="325" y="272.4" width="10.7" height="8.8" fill="#fff" stroke="#333" stroke-width="1"/>
<text x="301.8" y="297.2" font-size="7" fill="#333" textLength="18.8" lengthAdjust="spacingAndGlyphs">6000A</text>
<text x="301.8" y="305.7" font-size="7" fill="#333" textLength="32.1" lengthAdjust="spacingAndGlyphs">DC 15-95V</text>
<path d="M338.5,296 L343,301 M340.8,300 q1.5,1 0,2 q-1.5,1 0,2" stroke="#444" stroke-width="0.6" fill="none"/>
<text x="340" y="290" font-size="5" fill="#333">ϕ1</text>
<path d="M339.5,309.9 V302.1 H348.2" stroke="#555" stroke-width="0.7" fill="none"/>
<text x="341" y="305.5" font-size="5" fill="#333">f2</text>
<path d="M298.2,309.9 H348.7 M298.2,314.2 H348.7" stroke="#444" stroke-width="0.8"/>
<path d="M312.3,314.2 V341.3 M335.7,314.2 V341.3" stroke="#444" stroke-width="0.8"/>
<path d="M312.3,317 H335.7" stroke="#444" stroke-width="0.6"/>
<rect x="314.5" y="341.3" width="19" height="3.9" fill="#fff" stroke="#444" stroke-width="0.8"/>
<rect x="303.1" y="345.2" width="41.4" height="22.2" fill="#fff" stroke="#333" stroke-width="1"/>
<path d="M298.2,351.5 H303.1 M298.2,354.5 H303.1 M344.5,351.5 H348.7 M344.5,354.5 H348.7" stroke="#666" stroke-width="0.6"/>
</g>
<circle cx="626.8000000000001" cy="208.6" r="15.9" fill="#fff" stroke="#3a3a3a" stroke-width="1"/>
<circle cx="626.8000000000001" cy="208.6" r="12" fill="none" stroke="#3a3a3a" stroke-width="1"/>
<rect x="618.2" y="206.5" width="17.2" height="4.2" fill="#fff" stroke="#3a3a3a" stroke-width="0.9"/>
<rect x="624.5000000000001" y="196.79999999999998" width="4.6" height="23.6" fill="#fff" stroke="#3a3a3a" stroke-width="0.9"/>
<rect x="624.8000000000001" y="206.79999999999998" width="4" height="3.6" fill="#fff"/>
<circle cx="626.8000000000001" cy="208.6" r="3" fill="#fff" stroke="#3a3a3a" stroke-width="0.9"/>
<path d="M626.8000000000001,192.7 V196.79999999999998 M626.8000000000001,220.4 V224.5" stroke="#3a3a3a" stroke-width="1"/>
<circle cx="626.8000000000001" cy="417.0" r="15.9" fill="#fff" stroke="#3a3a3a" stroke-width="1"/>
<circle cx="626.8000000000001" cy="417.0" r="12" fill="none" stroke="#3a3a3a" stroke-width="1"/>
<rect x="618.2" y="414.9" width="17.2" height="4.2" fill="#fff" stroke="#3a3a3a" stroke-width="0.9"/>
<rect x="624.5000000000001" y="405.2" width="4.6" height="23.6" fill="#fff" stroke="#3a3a3a" stroke-width="0.9"/>
<rect x="624.8000000000001" y="415.2" width="4" height="3.6" fill="#fff"/>
<circle cx="626.8000000000001" cy="417.0" r="3" fill="#fff" stroke="#3a3a3a" stroke-width="0.9"/>
<path d="M626.8000000000001,401.1 V405.2 M626.8000000000001,428.8 V432.9" stroke="#3a3a3a" stroke-width="1"/>
<rect x="641.0" y="192.3" width="7.7" height="2.5" fill="#555"/>
<path d="M640.7,432.6 h6.6 M644.0,429.3 v6.6" stroke="#333" stroke-width="0.9"/>
<g transform="translate(303.0,0)">
<text x="311.5" y="262.5" font-size="5.5" fill="#333" text-anchor="start" font-weight="normal" >电</text>
<g transform="translate(319.0,252.0) scale(1.0)"><path d="M6.2,1.8 C4.6,0.2 2.2,0.8 2.6,3 C2.8,4.3 4.2,4.9 4.6,5 C1.8,5 0,7.2 0.6,9 C1.2,10.8 4.4,10.6 5.8,8.8" fill="none" stroke="#2a2a2a" stroke-width="1.15"/><circle cx="7.3" cy="0.9" r="0.9" fill="none" stroke="#444" stroke-width="0.45"/></g>
<text x="329.5" y="262.5" font-size="5.5" fill="#333" text-anchor="start" font-weight="normal" >保</text>
<rect x="300.7" y="264.1" width="47.5" height="6.7" fill="#3c3c3c"/>
<text x="302" y="269.8" font-size="6.6" fill="#fff" textLength="45" lengthAdjust="spacingAndGlyphs">HXDB07-DC</text>
<text x="302" y="283" font-size="10.6" font-weight="bold" fill="#3a3a3a" textLength="16.9" lengthAdjust="spacingAndGlyphs">C63</text>
<rect x="325" y="272.4" width="10.7" height="8.8" fill="#fff" stroke="#333" stroke-width="1"/>
<text x="301.8" y="297.2" font-size="7" fill="#333" textLength="18.8" lengthAdjust="spacingAndGlyphs">6000A</text>
<text x="301.8" y="305.7" font-size="7" fill="#333" textLength="32.1" lengthAdjust="spacingAndGlyphs">DC 15-95V</text>
<path d="M338.5,296 L343,301 M340.8,300 q1.5,1 0,2 q-1.5,1 0,2" stroke="#444" stroke-width="0.6" fill="none"/>
<text x="340" y="290" font-size="5" fill="#333">ϕ1</text>
<path d="M339.5,309.9 V302.1 H348.2" stroke="#555" stroke-width="0.7" fill="none"/>
<text x="341" y="305.5" font-size="5" fill="#333">f2</text>
<path d="M298.2,309.9 H348.7 M298.2,314.2 H348.7" stroke="#444" stroke-width="0.8"/>
<path d="M312.3,314.2 V341.3 M335.7,314.2 V341.3" stroke="#444" stroke-width="0.8"/>
<path d="M312.3,317 H335.7" stroke="#444" stroke-width="0.6"/>
<rect x="314.5" y="341.3" width="19" height="3.9" fill="#fff" stroke="#444" stroke-width="0.8"/>
<rect x="303.1" y="345.2" width="41.4" height="22.2" fill="#fff" stroke="#333" stroke-width="1"/>
<path d="M298.2,351.5 H303.1 M298.2,354.5 H303.1 M344.5,351.5 H348.7 M344.5,354.5 H348.7" stroke="#666" stroke-width="0.6"/>
</g>
</g>
<g id="photo1">
<defs><linearGradient id="bodyg" x1="0" x2="1" y1="0" y2="0"><stop offset="0" stop-color="#e8e8e5"/><stop offset="0.03" stop-color="#f9f9f6"/><stop offset="1" stop-color="#fcfcf9"/></linearGradient><linearGradient id="mcbg" x1="0" x2="1" y1="0" y2="0"><stop offset="0" stop-color="#f0f0ee"/><stop offset="0.05" stop-color="#fbfbf9"/><stop offset="0.92" stop-color="#fafaf8"/><stop offset="1" stop-color="#ececea"/></linearGradient><radialGradient id="screwg" cx="0.5" cy="0.5" r="0.5"><stop offset="0" stop-color="#a7bccb"/><stop offset="0.5" stop-color="#5a7488"/><stop offset="0.8" stop-color="#1f2c36"/><stop offset="1" stop-color="#0b0f12"/></radialGradient></defs>
<path d="M445.5,727 V708.5 Q445.5,702.7 451.3,702.7 H505.7 Q511.5,702.7 511.5,708.5 V727 H498.7 V719 Q498.7,716.7 496.4,716.7 H460.1 Q457.8,716.7 457.8,719 V727 Z" fill="#161616"/>
<rect x="342.2" y="727" width="96" height="129" fill="url(#bodyg)"/>
<rect x="438.2" y="727" width="94.6" height="129" fill="url(#mcbg)"/>
<rect x="342.2" y="727" width="190.6" height="7" fill="#e7e7e3"/>
<path d="M342.2,734 H532.8" stroke="#eeeeea" stroke-width="1"/>
<path d="M372.2,734 V855" stroke="#b9b9b6" stroke-width="0.9"/>
<path d="M485.9,734 V752 M485.9,798 V855" stroke="#dcdcd9" stroke-width="0.9"/>
<path d="M438.6,727 V856" stroke="#c4c4c1" stroke-width="1.6"/>
<circle cx="486.8" cy="774.1" r="28.0" fill="#fbfbf9" stroke="#ebebe8" stroke-width="1.4"/>
<circle cx="486.0" cy="774.7" r="21.8" fill="url(#screwg)"/>
<g transform="translate(486.0,774.7) scale(1.000)" fill="none" stroke-linecap="round"><path d="M-10,-9 L9,10 M-9,9 L10,-9" stroke="#dbe8f2" stroke-width="2.2"/><path d="M-14,-2 L-3,-1 L-2,-13 M2,13 L3,2 L14,3" stroke="#c6d8e6" stroke-width="2.4"/><path d="M-6,-10 Q-12,-4 -8,2 M6,10 Q12,4 8,-2" stroke="#9fb8cc" stroke-width="2"/><path d="M-16,4 L-4,3 M4,-3 L16,-4 M-1,-16 L0,-4 M1,4 L2,16" stroke="#eef5fa" stroke-width="1.2"/></g>
<rect x="511" y="745.6" width="15.8" height="3.9" fill="#b3b3b3"/>
<g stroke="#b4b4b2" stroke-width="0.9" fill="none"><rect x="397.3" y="780" width="6.4" height="4.7"/><path d="M400.7,784.7 V803.9 M389.5,795.5 V803.9 M404.5,809.4 H413.5 M418.4,785.5 V823.1 M387.5,813.7 V824 M392.5,813.7 V824 M402.4,813.7 V824"/><path d="M403.7,782.6 H413 L418.4,786" stroke-dasharray="1.6 1.2"/><path d="M418.4,789 q2.2,1.3 0,2.6 q-2.2,1.3 0,2.6 q2.2,1.3 0,2.6 q-2.2,1.3 0,2.6"/><rect x="386.2" y="803.9" width="18.3" height="9.8"/><ellipse cx="418.6" cy="809.4" rx="5.1" ry="3.4"/></g>
<path d="M418.3,776 V781" stroke="#a0a0a0" stroke-width="1.4"/>
<text x="387.6" y="812.3" font-size="7.6" font-weight="bold" fill="#a0a0a0" textLength="16" lengthAdjust="spacingAndGlyphs">MCU</text>
<text x="391.4" y="795" font-size="5.2" font-weight="bold" fill="#8e8e8e" transform="rotate(-90 391.4 795)" textLength="20" lengthAdjust="spacingAndGlyphs">RS485</text>
<path d="M421.2,777.9 H426.3 M421,823.1 H427.2 M424.1,820 V826.2" stroke="#8a8a8a" stroke-width="1.5"/>
<path d="M383.3,828.2 H387.3 M385.3,826.2 V830.2 M391.5,828.2 H395.5" stroke="#9a9a9a" stroke-width="1.1"/>
<text x="400.3" y="831" font-size="7" font-weight="bold" fill="#9a9a9a">N</text>
<rect x="343.4" y="855" width="95.2" height="252" fill="url(#bodyg)"/>
<rect x="441.5" y="856.5" width="97.2" height="250.5" fill="url(#mcbg)"/>
<path d="M343.4,856 H438.6" stroke="#e4e4e1" stroke-width="2"/>
<path d="M441.5,857.5 H538.7" stroke="#e8e8e5" stroke-width="3"/>
<path d="M441.6,856 V1107" stroke="#6e6e6b" stroke-width="1.1"/>
<path d="M438.6,856 V1107" stroke="#d4d4d1" stroke-width="1.5"/>
<rect x="427.5" y="872" width="14.5" height="33.7" fill="#ec3a2b"/>
<rect x="427.5" y="872" width="3" height="33.7" fill="#f3826f"/>
<rect x="427.5" y="903.5" width="14.5" height="2.2" fill="#c62a1e"/>
<rect x="407.6" y="887" width="13.6" height="12" rx="1.5" fill="#b0b0ae"/>
<path d="M410.3,887.5 V884.8 a4.1,4.1 0 0 1 8.2,0 V887.5" fill="none" stroke="#b0b0ae" stroke-width="2.6"/>
<path d="M412.3,891 L416.8,895.6" stroke="#f2f2f0" stroke-width="1.6"/>
<circle cx="386" cy="908.5" r="13.2" fill="#fefefe" stroke="#e6e6e3" stroke-width="0.8"/>
<g transform="translate(380.5,919.5) scale(1.75)"><path d="M1.2,4 V1.3 M2.6,4 V0.5 M4,4 V0.7 M5.3,4.3 V1.7" stroke="#b4b4b4" stroke-width="1.1" stroke-linecap="round"/><path d="M0.7,3.8 H5.9 L7.3,3 L6.3,6.2 L4.9,8.9 H1.8 L0.6,6.6 Z" fill="#b4b4b4"/><circle cx="3.6" cy="6" r="1.4" fill="none" stroke="#f4f4f4" stroke-width="0.5"/></g>
<text x="401.6" y="932" font-size="7.2" fill="#a6a6a6" textLength="22.7" lengthAdjust="spacingAndGlyphs">Match</text>
<text x="396.5" y="942" font-size="7.6" fill="#a2a2a2" textLength="35" lengthAdjust="spacingAndGlyphs">MCB ON</text>
<rect x="359.4" y="948.2" width="15.4" height="16.8" fill="#423f3c"/>
<rect x="362.5" y="951.5" width="9" height="10" fill="#55524f"/>
<text x="379.5" y="961" font-size="12" fill="#a2a2a2">Status</text>
<rect x="359.4" y="989.6" width="15.4" height="15.6" fill="#423f3c"/>
<rect x="362.5" y="992.8" width="9" height="9.5" fill="#55524f"/>
<g transform="translate(388.8,998)"><circle r="4" fill="none" stroke="#a4a4a4" stroke-width="1.1"/><path d="M0,-5.5 V-7.3 M0,5.5 V7.3 M-5.5,0 H-7.3 M5.5,0 H7.3 M3.9,3.9 L5.2,5.2 M-3.9,-3.9 L-5.2,-5.2 M3.9,-3.9 L5.2,-5.2 M-3.9,3.9 L-5.2,5.2" stroke="#a4a4a4" stroke-width="1.1"/></g>
<text x="470.8" y="885.2" font-size="8.2" fill="#8c8c8c">电</text>
<text x="484.5" y="886" font-size="19" font-style="italic" fill="#8a8a8a" font-family="Liberation Serif, serif">B</text>
<text x="495" y="873" font-size="5" fill="#999">®</text>
<text x="498.8" y="884.5" font-size="8.5" fill="#8c8c8c">保</text>
<rect x="449" y="888.4" width="82.4" height="10" fill="#b2b2b2"/>
<text x="452" y="897.4" font-size="10" font-weight="bold" fill="#f4f4f4" textLength="76" lengthAdjust="spacingAndGlyphs" opacity="0.92">HXDB07-DC</text>
<text x="452.5" y="922.4" font-size="19" font-weight="bold" fill="#acacac" textLength="31" lengthAdjust="spacingAndGlyphs">C63</text>
<rect x="494.7" y="906" width="18.8" height="15" fill="#27a03a"/>
<rect x="496.5" y="908" width="15" height="6" fill="#45c157" opacity="0.6"/>
<rect x="494.7" y="920" width="18.8" height="1.5" fill="#1c6a28"/>
<text x="451" y="938.5" font-size="11" fill="#a4a4a4" textLength="35" lengthAdjust="spacingAndGlyphs">6000A</text>
<text x="451" y="949" font-size="11" fill="#a4a4a4" textLength="57" lengthAdjust="spacingAndGlyphs">DC 15V-95V</text>
<text x="522.5" y="922" font-size="7.5" fill="#b0b0b0">±1</text>
<text x="527.5" y="949.5" font-size="7.5" fill="#b0b0b0">2</text>
<path d="M521,924 q2,2 0,4 q-2,2 0,4 q2,2 0,4" stroke="#c4c4c4" stroke-width="0.8" fill="none"/>
<rect x="442" y="954.6" width="96.5" height="152.4" fill="#fcfcfa"/>
<path d="M442,955.5 H538.5" stroke="#dadad7" stroke-width="1.4"/>
<path d="M442,958 H538.5" stroke="#eeeeec" stroke-width="3"/>
<rect x="520.5" y="960" width="18" height="147" fill="#efefec"/>
<path d="M520.5,960 V1107" stroke="#e2e2df" stroke-width="1"/>
<path d="M538,955 V1107" stroke="#d8d8d5" stroke-width="1.2"/>
<rect x="470" y="985.7" width="43.2" height="5.3" fill="#fcefe9"/>
<rect x="470" y="990.6" width="43.2" height="1.2" fill="#3a2a24"/>
<rect x="470" y="991.5" width="43.2" height="58.5" fill="#ef4b22"/>
<rect x="508.3" y="1043.5" width="4.8" height="6" fill="#1a120e"/>
<rect x="442.5" y="1052" width="6" height="28" rx="3" fill="#9c1f1a" opacity="0.75"/>
<rect x="449" y="1049.3" width="81.8" height="43.7" fill="#f15625"/>
<rect x="449" y="1091" width="81.8" height="2" fill="#e4501f"/>
<path d="M492.3,1026.5 H505.3 L498.8,1037.5 Z" fill="#e01f1c"/>
<rect x="345.2" y="1107" width="95" height="103" fill="#f1f1ee"/>
<rect x="440.2" y="1107" width="91.8" height="103" fill="#f3f3f0"/>
<path d="M345.2,1108 H538" stroke="#dfdfdc" stroke-width="2"/>
<path d="M372.9,1108 V1210" stroke="#bdbdba" stroke-width="0.9"/>
<path d="M440,1108 V1210" stroke="#cfcfcc" stroke-width="1.2"/>
<path d="M485.9,1108 V1146" stroke="#d6d6d3" stroke-width="0.9"/>
<path d="M531.8,1108 V1210" stroke="#e2e2df" stroke-width="1"/>
<circle cx="486.90000000000003" cy="1170.4" r="27.5" fill="#fbfbf9" stroke="#ebebe8" stroke-width="1.4"/>
<circle cx="486.1" cy="1171" r="21.2" fill="#141a1c"/>
<circle cx="486.90000000000003" cy="1170.5" r="18.0" fill="#c9dbe6"/>
<g transform="translate(486.1,1171) scale(0.972)" fill="none" stroke-linecap="round"><path d="M-8,-10 L10,12 M-12,8 L12,-8" stroke="#e9f2f8" stroke-width="3"/><path d="M-3,-8 L0,0 L-7,5 M0,0 L6,5" stroke="#3f74a0" stroke-width="3.4"/><path d="M-2,1 L4,3" stroke="#ffffff" stroke-width="2.6"/></g>
<path d="M512.8,1195.9 H529.4 M521.1,1188.2 V1203.6" stroke="#a0a0a0" stroke-width="4"/>
<path d="M390.50,1154.44 L387.78,1157.09 L384.13,1158.12 L385.06,1161.80 L384.13,1165.48 L387.78,1166.51 L390.50,1169.16 L393.22,1166.51 L396.87,1165.48 L395.94,1161.80 L396.87,1158.12 L393.22,1157.09 Z" fill="none" stroke="#acacac" stroke-width="1.44"/>
<circle cx="390.5" cy="1161.8" r="2.40" fill="none" stroke="#acacac" stroke-width="1.28"/>
<path d="M411.64,1156.62 A5.07,6.24 0 1 0 411.64,1166.98 M420.94,1156.62 A5.07,6.24 0 1 0 420.94,1166.98 M414.35,1161.80 H420.69" fill="none" stroke="#acacac" stroke-width="1.97"/>
<text x="387.2" y="1163.6" font-size="5" font-weight="bold" fill="#a0a0a0">48</text>
<text x="377.6" y="1190.5" font-size="9.6" fill="#a8a8a8" textLength="58.8" lengthAdjust="spacingAndGlyphs">GB/T 10963.2</text>
</g>
<g id="photo2">
<defs><linearGradient id="sideg" x1="0" y1="0" x2="0.5" y2="1"><stop offset="0" stop-color="#f4f4f2"/><stop offset="1" stop-color="#ececea"/></linearGradient><linearGradient id="topg" x1="0" y1="0" x2="0.2" y2="1"><stop offset="0" stop-color="#e8e8e6"/><stop offset="1" stop-color="#dadad8"/></linearGradient><linearGradient id="lowg" x1="0" y1="0" x2="0.3" y2="1"><stop offset="0" stop-color="#e2e2e0"/><stop offset="1" stop-color="#ebebe9"/></linearGradient><radialGradient id="screw2" cx="0.5" cy="0.5" r="0.5"><stop offset="0" stop-color="#d2e2ee"/><stop offset="0.55" stop-color="#7f9db4"/><stop offset="1" stop-color="#2e3c48"/></radialGradient></defs>
<path d="M283,1286 L392,1329.5 L389.5,1390 L384,1396 L375.5,1400 L350,1419 L346,1440 L338,1448 L310,1461 L205,1421 L218,1342 Z" fill="#e5e5e3"/>
<path d="M283,1286 L218,1342 L205,1421 L219,1422 L246,1376 L273,1352 L281,1347 Z" fill="url(#sideg)"/>
<path d="M283,1287 L281,1347" stroke="#dadad8" stroke-width="1.2"/>
<ellipse cx="278" cy="1309" rx="2" ry="5.5" fill="#dcdcda" transform="rotate(20 278 1309)"/>
<ellipse cx="215.5" cy="1399" rx="1.6" ry="4.5" fill="#e2e2e0" transform="rotate(20 215.5 1399)"/>
<path d="M283,1286 L392,1329.5 L389.5,1390 L329,1362 L273,1352 L281,1347 Z" fill="url(#topg)"/>
<path d="M284,1289.5 L391,1333" stroke="#f3f3f1" stroke-width="2.2"/>
<path d="M301.2,1292 V1350 M339.2,1308 V1368 M364,1319 V1379" stroke="#cfcfcd" stroke-width="1"/>
<path d="M302.5,1292 V1350 M340.5,1308 V1368 M365.3,1319 V1379" stroke="#f2f2f0" stroke-width="0.9"/>
<path d="M246,1376 L273,1352 L329,1362 L314.5,1386 L251,1381 Z" fill="#dededc"/>
<path d="M246,1376 L273,1352 L329,1362" stroke="#f1f1ef" stroke-width="2.4" fill="none"/>
<path d="M329,1362 L389.5,1390 L384,1396 L375.5,1400 L314.5,1386 Z" fill="#dcdcda"/>
<path d="M219,1422 L246,1377 L251,1381 L314.5,1386 L375.5,1400 L350,1419 L346,1440 L338,1448 L310,1461 Z" fill="url(#lowg)"/>
<path d="M251,1382 L314.5,1387 L375,1401" stroke="#f6f6f4" stroke-width="2.2" fill="none"/>
<path d="M317.6,1376.5 L297.5,1398.5 L298.4,1402 L273.8,1426 L262,1441" stroke="#9d9d9b" stroke-width="1.1" fill="none"/>
<path d="M319.5,1377.5 L299.5,1399.5 L300.4,1403 L275.8,1427 L264,1442" stroke="#f6f6f4" stroke-width="1" fill="none"/>
<path d="M219,1422 L310,1461" stroke="#d8d8d6" stroke-width="1.5"/>
<path d="M262.1,1381.2 L280.4,1361.1 L287.7,1364.7 L269.4,1383 Z" fill="#121212"/>
<path d="M219,1421 L239,1400 L258.7,1405.5 L240,1428 Z" fill="#a2a6ac" stroke="#a2a6ac" stroke-width="1.5" stroke-linejoin="round"/>
<path d="M218,1420.5 L240,1428 L239,1430 L217.5,1422.5 Z" fill="#6a6e74"/>
<path d="M285,1427 L296,1413 L332,1422 L321,1438 Z" fill="#f7f7f5"/>
<path d="M287,1425.6 L297.2,1414.5 L329.6,1423 L319.4,1435.8 Z" fill="#2b2622"/>
<path d="M296,1418 L327,1426" stroke="#857a70" stroke-width="1.5"/>
<ellipse cx="359" cy="1362.5" rx="16" ry="18.5" fill="#f1f1ef" stroke="#d6d6d4" stroke-width="0.8"/>
<ellipse cx="357" cy="1362" rx="11.5" ry="12.5" fill="#1c2228"/>
<ellipse cx="355.5" cy="1364" rx="8.5" ry="9.5" fill="url(#screw2)"/>
<path d="M350,1359 L361,1369 M351,1369 L360,1358" stroke="#e0ecf4" stroke-width="1.6"/>
<path d="M373,1381.6 H381.5 M377.2,1377.4 V1385.8" stroke="#a0a0a0" stroke-width="2.6"/>
<g transform="rotate(20 306 1330)">
<path d="M306.00,1325.86 L304.47,1327.35 L302.41,1327.93 L302.94,1330.00 L302.41,1332.07 L304.47,1332.65 L306.00,1334.14 L307.53,1332.65 L309.59,1332.07 L309.06,1330.00 L309.59,1327.93 L307.53,1327.35 Z" fill="none" stroke="#a2a2a0" stroke-width="0.81"/>
<circle cx="306" cy="1330" r="1.35" fill="none" stroke="#a2a2a0" stroke-width="0.72"/>
<path d="M317.47,1327.09 A2.85,3.51 0 1 0 317.47,1332.91 M322.70,1327.09 A2.85,3.51 0 1 0 322.70,1332.91 M319.00,1330.00 H322.56" fill="none" stroke="#a2a2a0" stroke-width="1.11"/>
</g>
<text x="295" y="1341" font-size="5.5" fill="#a4a4a2" transform="rotate(24 295 1341)">GB/T 10963.2</text>
</g>
<g id="callouts">
<path d="M137.0,796.8 L258.7,796.8 L423.6,872.9" stroke="#c42a2e" stroke-width="1.4" fill="none"/>
<path d="M423.6,864.6 L416.3,877.5 L430.9,877.5 Z" fill="#e3141b"/>
<path d="M183.0,857.0 L260.0,857.0 L378.0,905.0" stroke="#c42a2e" stroke-width="1.4" fill="none"/>
<path d="M378.2,896.8 L370.2,909.4 L385.6,909.4 Z" fill="#e3141b"/>
<path d="M120.0,920.2 L259.0,920.2 L355.5,953.3" stroke="#c42a2e" stroke-width="1.4" fill="none"/>
<path d="M355.3,944.8 L347.8,957.8 L363.5,957.4 Z" fill="#e3141b"/>
<path d="M122.6,1124.0 L262.6,1124.0 L356.4,1011.4" stroke="#c42a2e" stroke-width="1.4" fill="none"/>
<path d="M361.2,1004.1 L347.2,1011.4 L360.9,1018.8 Z" fill="#e3141b"/>
<path d="M691.5,734.7 L590.8,734.7 L494.7,775.1" stroke="#c42a2e" stroke-width="1.4" fill="none"/>
<path d="M487.5,779.4 L494.2,766.8 L502.5,779.0 Z" fill="#e3141b"/>
<path d="M682.0,863.2 L602.9,863.2 L517.7,906.5" stroke="#c42a2e" stroke-width="1.4" fill="none"/>
<path d="M517.5,897.9 L510.5,911.0 L525.1,910.7 Z" fill="#e3141b"/>
<path d="M678.9,1080.8 L593.4,1080.8 L513.6,1038.2" stroke="#c42a2e" stroke-width="1.4" fill="none"/>
<path d="M716.0,1198.9 L590.2,1198.9 L496.9,1165.5" stroke="#c42a2e" stroke-width="1.4" fill="none"/>
<path d="M488.4,1162.4 L503.8,1160.0 L498.4,1174.1 Z" fill="#e3141b"/>
<path d="M579.6,1299.4 L398.8,1299.4 L288.2,1360.2" stroke="#c42a2e" stroke-width="1.4" fill="none"/>
<path d="M288.4,1351.3 L280.6,1364.8 L295.7,1364.5 Z" fill="#e3141b"/>
<path d="M472.4,1486.9 L409.0,1486.9 L245.1,1416.5" stroke="#c42a2e" stroke-width="1.4" fill="none"/>
<path d="M237.4,1412.1 L252.8,1412.1 L245.2,1425.2 Z" fill="#e3141b"/>
</g>
<g id="texts">
<text x="414" y="86.5" font-size="34" fill="#111" font-weight="normal" text-anchor="middle" stroke="#111" stroke-width="0.9" letter-spacing="2">产品接线图</text>
<text x="414" y="640" font-size="34" fill="#111" font-weight="normal" text-anchor="middle" stroke="#111" stroke-width="0.9" letter-spacing="1.6">产品操作面板说明</text>
<text x="112.6" y="525" font-size="14.4" fill="#222" font-weight="normal" letter-spacing="0.22">按照实际配电电力管理和线路铺设的设计要求，依需求选择合适的物联网空开模组以及电箱规格，</text>
<text x="352.6" y="546.5" font-size="14.4" fill="#222" font-weight="normal" letter-spacing="0.22">并安装和连接线路。</text>
<text x="119.5" y="698.5" font-size="25" fill="#222" font-weight="normal" >正视图：</text>
<text x="137" y="787.5" font-size="20" fill="#363636" font-weight="normal" letter-spacing="0.2">检修上锁拉杆</text>
<text x="181.5" y="846" font-size="19.5" fill="#363636" font-weight="normal" >配网按键</text>
<text x="122" y="910" font-size="20" fill="#363636" font-weight="normal" letter-spacing="0.1">状态指示灯</text>
<text x="117.5" y="950.3" font-size="20" fill="#3a3a3a" font-weight="normal" >合闸<tspan dx="2.6">:</tspan><tspan dx="2.6">红灯亮</tspan></text>
<text x="117.5" y="975.9" font-size="20" fill="#3a3a3a" font-weight="normal" >分闸<tspan dx="2.6">:</tspan><tspan dx="2.6">蓝灯亮</tspan></text>
<text x="117.5" y="1001.5" font-size="20" fill="#3a3a3a" font-weight="normal" >红灯闪亮<tspan dx="2.6">:</tspan><tspan dx="2.6">配网成功</tspan></text>
<text x="117.5" y="1027.1" font-size="20" fill="#3a3a3a" font-weight="normal" >蓝灯闪亮<tspan dx="2.6">:</tspan><tspan dx="2.6">配网状态</tspan></text>
<text x="122.5" y="1115.5" font-size="20" fill="#363636" font-weight="normal" letter-spacing="0.2">通讯指示灯</text>
<text x="122" y="1153" font-size="20" fill="#3a3a3a" font-weight="normal" >蓝灯闪亮<tspan dx="2.6">:</tspan><tspan dx="2.6">通讯正常</tspan></text>
<text x="122" y="1178.5" font-size="20" fill="#3a3a3a" font-weight="normal" >不亮<tspan dx="2.6">:</tspan><tspan dx="2.6">通讯不正常</tspan></text>
<text x="572.3" y="724" font-size="20" fill="#363636" font-weight="normal" >进线接线端子</text>
<text x="602.5" y="854.5" font-size="20" fill="#363636" font-weight="normal" letter-spacing="0.2">合分指示</text>
<text x="598.5" y="1068.5" font-size="20" fill="#363636" font-weight="normal" letter-spacing="0.5">操作手柄</text>
<text x="592" y="1186.3" font-size="20" fill="#363636" font-weight="normal" letter-spacing="0.3">出线接线端子</text>
<text x="117" y="1265.5" font-size="25" fill="#222" font-weight="normal" >其他视图：</text>
<text x="404.5" y="1288.5" font-size="20" fill="#363636" font-weight="normal" textLength="177.5" lengthAdjust="spacingAndGlyphs">DC12V及RS485端口</text>
<text x="413.5" y="1473.5" font-size="20" fill="#363636" font-weight="normal" letter-spacing="0.3">编程口</text>
<text x="277" y="1551.5" font-size="19" fill="#444" font-weight="normal" textLength="102.5" lengthAdjust="spacingAndGlyphs">HXDB07-DC</text>
<text x="388.5" y="1551" font-size="20" fill="#444" font-weight="normal" >智慧直流微断</text>
</g>
</svg>
</body></html>
